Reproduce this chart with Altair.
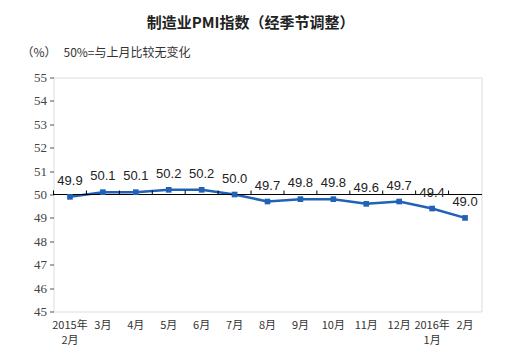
import altair as alt
import pandas as pd

months = ["2015年\n2月", "3月", "4月", "5月", "6月", "7月", "8月", "9月", "10月",
          "11月", "12月", "2016年\n1月", "2月"]
pmi = [49.9, 50.1, 50.1, 50.2, 50.2, 50.0, 49.7, 49.8, 49.8, 49.6, 49.7, 49.4, 49.0]

df = pd.DataFrame({"month": months, "pmi": pmi,
                   "label": [f"{v:.1f}" for v in pmi]})

W, H = 428, 234
CJK = "Noto Sans CJK SC"
LINE = "#1f62b6"

xscale = alt.Scale(domain=months, paddingInner=0, paddingOuter=0)
yscale = alt.Scale(domain=[45, 55], nice=False, zero=False)

xaxis = alt.Axis(orient="bottom", ticks=False, domain=False,
                 labelAngle=0, labelFont=CJK, labelFontSize=11,
                 labelColor="#333", labelPadding=8,
                 labelExpr="split(datum.label, '\\n')",
                 labelLineHeight=15, labelBaseline="top")
yaxis = alt.Axis(values=list(range(45, 56)), grid=False, domain=False,
                 tickSize=4, tickColor="#555", labelFont="Liberation Serif",
                 labelFontSize=13, labelColor="#444", labelPadding=3,
                 labelOverlap=False)

X = alt.X("month:N", scale=xscale, sort=months, title=None, axis=xaxis)
Y = alt.Y("pmi:Q", scale=yscale, title=None, axis=yaxis)

base = alt.Chart(df)

line = base.mark_line(color=LINE, strokeWidth=2.5).encode(x=X, y=Y)

fifty = base.mark_rule(color="#000", strokeWidth=1).encode(
    y=alt.Y(datum=50, scale=yscale, title=None, axis=yaxis),
    x=alt.value(0), x2=alt.value(W))

ticks = base.mark_rule(color="#000", strokeWidth=1).encode(
    x=alt.X("month:N", scale=xscale, sort=months, title=None, axis=xaxis,
            bandPosition=0),
    y=alt.value(H * 0.5), y2=alt.value(H * 0.5 - 4),
)

points = base.mark_square(color=LINE, size=32, opacity=1).encode(x=X, y=Y)

labels = base.mark_text(dy=-16, font="Liberation Sans", fontSize=13,
                        color="#222").encode(x=X, y=Y, text="label:N")

title = alt.Chart(pd.DataFrame({"t": ["制造业PMI指数（经季节调整）"]})).mark_text(
    font=CJK, fontSize=15, fontWeight="bold", color="#222", align="center",
    baseline="middle").encode(x=alt.value(197), y=alt.value(-55), text="t:N")

unit = alt.Chart(pd.DataFrame({"t": ["（%）"]})).mark_text(
    font=CJK, fontSize=12, color="#333", align="left", baseline="middle"
).encode(x=alt.value(-32), y=alt.value(-25), text="t:N")

note = alt.Chart(pd.DataFrame({"t": ["50%=与上月比较无变化"]})).mark_text(
    font=CJK, fontSize=12, color="#333", align="left", baseline="middle"
).encode(x=alt.value(10), y=alt.value(-25), text="t:N")

chart = alt.layer(line, fifty, ticks, points, labels, title, unit, note).properties(
    width=W, height=H,
    autosize=alt.AutoSizeParams(type="none"),
    padding={"left": 45.5, "top": 69.5, "right": 34.5, "bottom": 35.5},
).configure_view(stroke="#333", strokeWidth=1).configure(background="white")

chart.save("out.html", embed_options={"renderer": "svg", "actions": False})
